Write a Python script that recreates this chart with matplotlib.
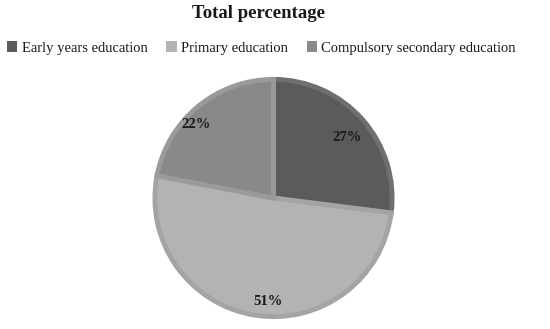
import matplotlib
matplotlib.use("Agg")
import matplotlib.pyplot as plt
import numpy as np
from matplotlib.patches import Patch

categories = ["Early years education", "Primary education", "Compulsory secondary education"]
values = [27, 51, 22]
labels = ["27%", "51%", "22%"]
colors = ["#5b5b5b", "#b3b3b3", "#898989"]
edge_colors = ["#6f6f6f", "#a4a4a4", "#9a9a9a"]

plt.rcParams['font.family'] = ['Liberation Serif', 'DejaVu Serif']

W, H = 550, 329
fig = plt.figure(figsize=(W / 100, H / 100), dpi=100)
fig.patch.set_facecolor("white")

cx, cy, r = 273.5, 198, 121
ax = fig.add_axes([(cx - r) / W, (H - cy - r) / H, 2 * r / W, 2 * r / H])
wedges, _ = ax.pie(values, colors=colors, startangle=90, counterclock=False,
                   radius=1.0, wedgeprops=dict(linewidth=3.5))
for w, ec in zip(wedges, edge_colors):
    w.set_edgecolor(ec)
    w.set_joinstyle("miter")

# label placement (distance from center as fraction of radius, angle tweak)
dists = [0.80, 0.87, 0.90]
dang = [-2, 6, 7]
for w, lab, d, da in zip(wedges, labels, dists, dang):
    ang = np.deg2rad((w.theta1 + w.theta2) / 2 + da)
    ax.text(d * np.cos(ang), d * np.sin(ang), lab, ha="center", va="center",
            fontsize=10.5, fontweight="bold", color="#1a1a1a")

ax.set_xlim(-1.02, 1.02)
ax.set_ylim(-1.02, 1.02)
ax.set_aspect("auto")
ax.axis("off")

fig.text(258 / W, 1 - 14 / H, "Total percentage", ha="center", va="center",
         fontsize=13.5, fontweight="bold", color="#1a1a1a")

handles = [Patch(facecolor=c, edgecolor="none") for c in colors]
fig.legend(handles, categories, loc="center", bbox_to_anchor=(261.5 / W, 1 - 48 / H),
           ncol=3, frameon=False, fontsize=10.5, handlelength=0.7, handleheight=0.7,
           handletextpad=0.3, columnspacing=1.3, labelcolor="#1a1a1a",
           borderpad=0, borderaxespad=0)

fig.savefig("out.png", dpi=100, facecolor="white")
